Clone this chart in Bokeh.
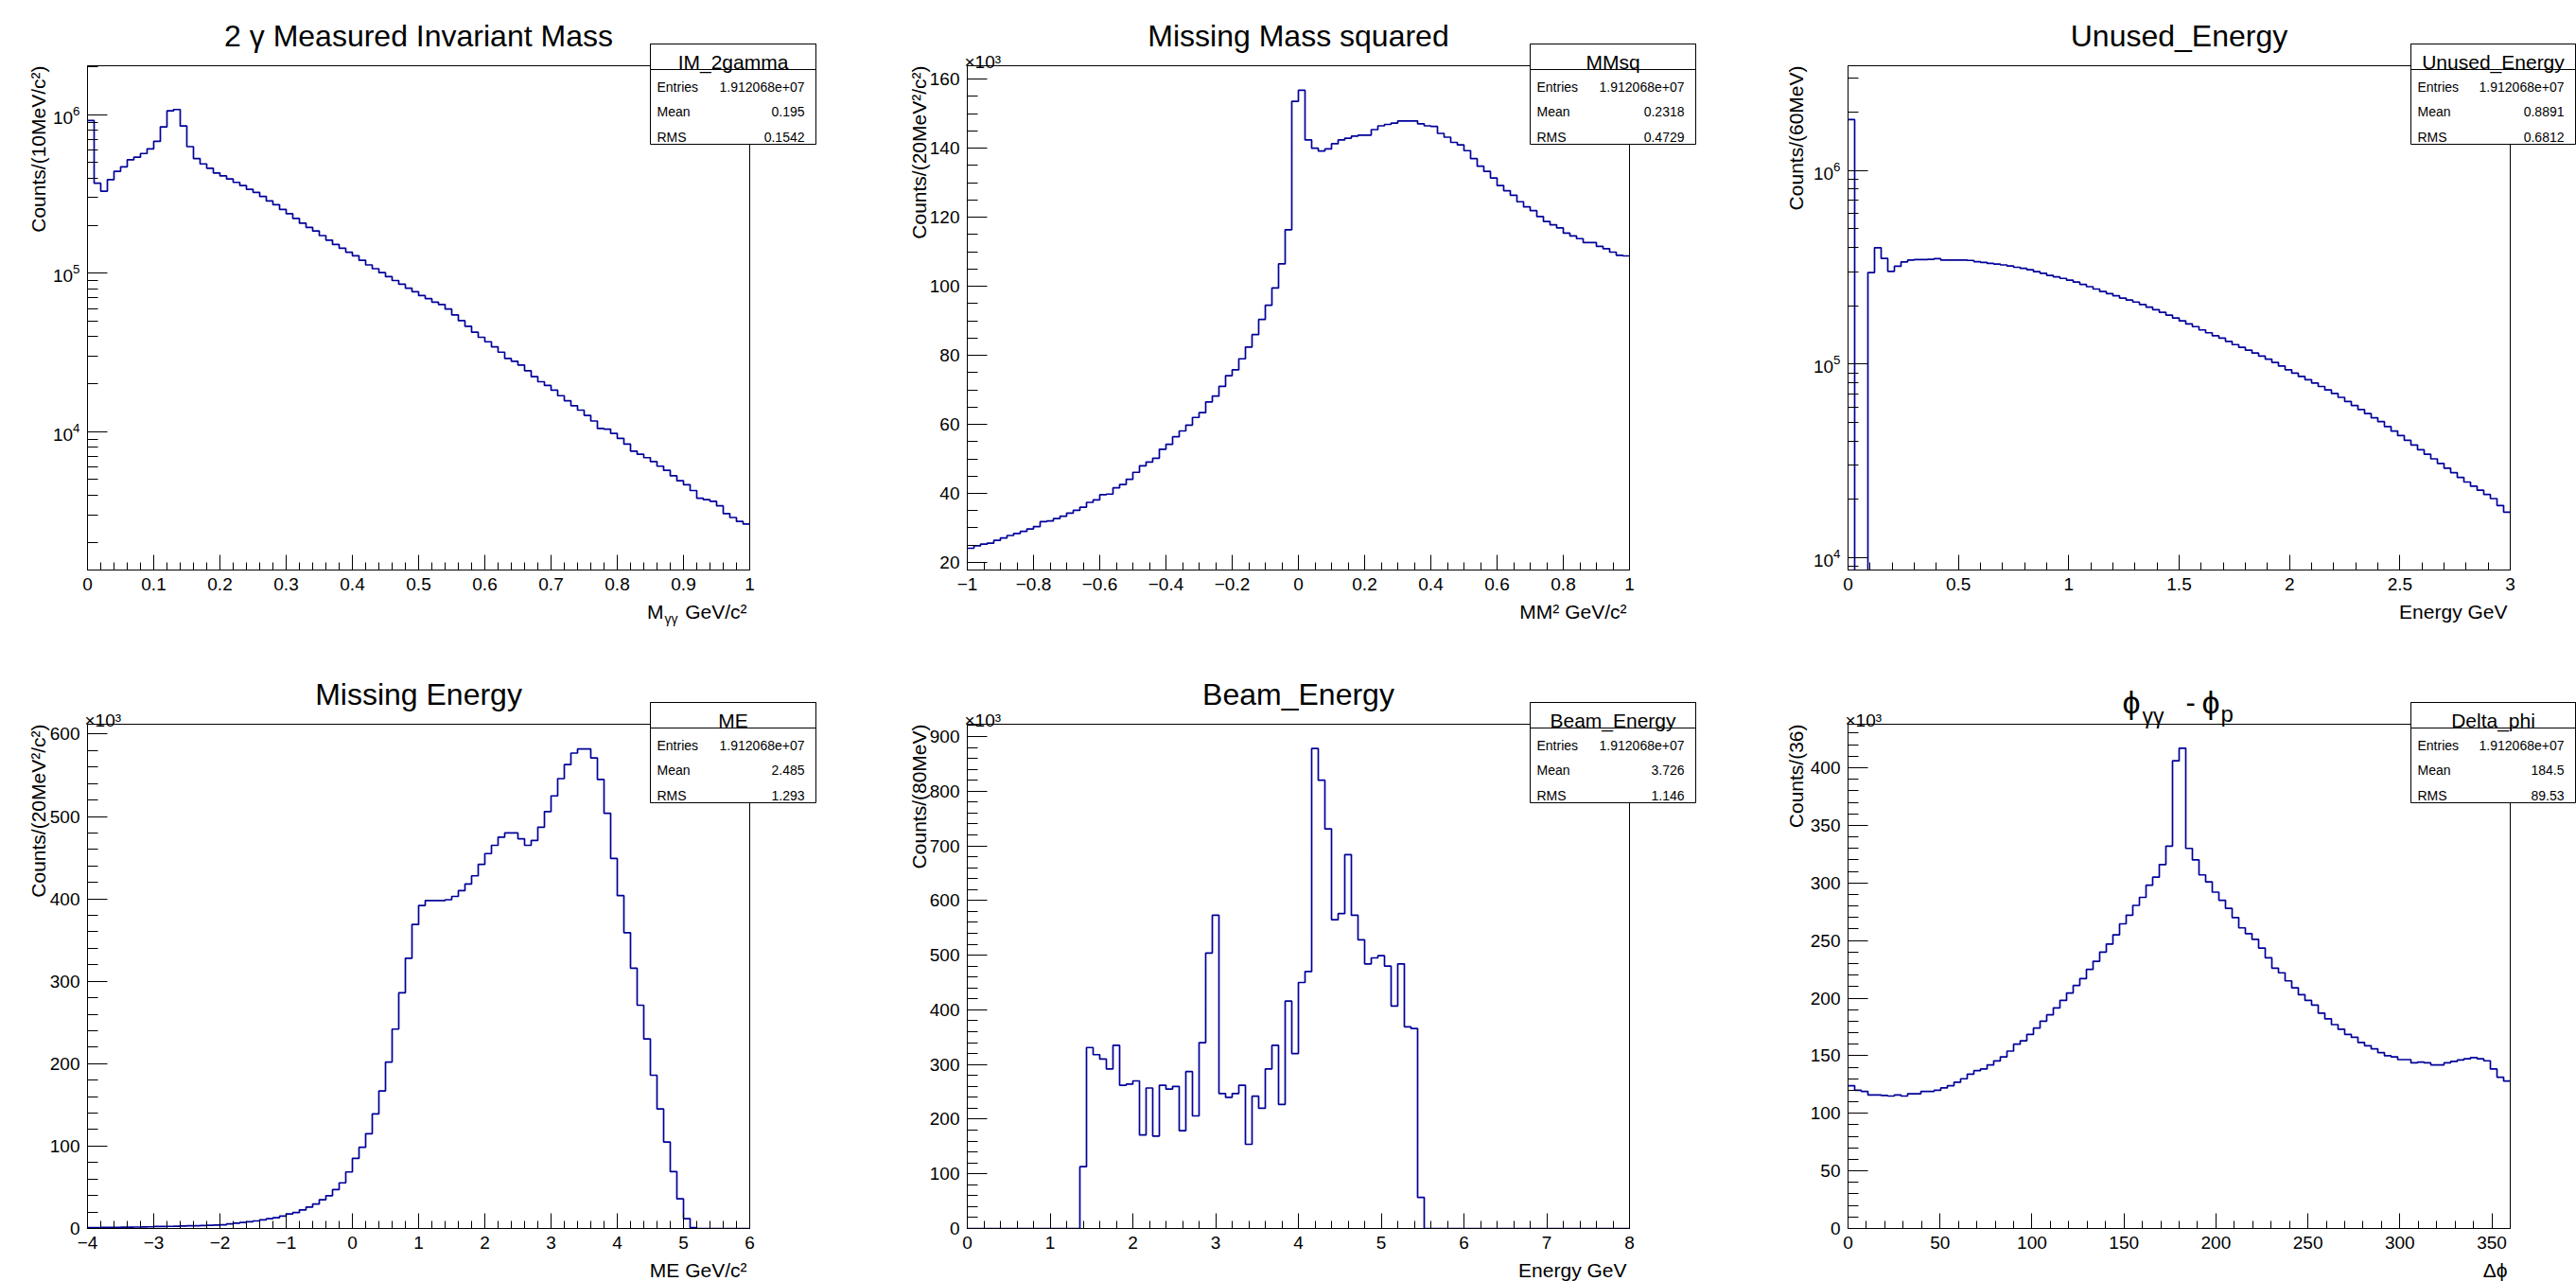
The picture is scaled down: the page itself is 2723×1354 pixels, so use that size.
import numpy as np
from bokeh.plotting import figure
from bokeh.models import (Label, BoxAnnotation, SingleIntervalTicker,
                          CustomJSTickFormatter, Range1d, GridBox)
from bokeh.embed import file_html
from bokeh.resources import INLINE

FONT = "Liberation Sans"
LINE = "#000099"

# ---------------- data (bin contents) ----------------
im2g_counts = [920000, 370000, 330000, 390000, 440000, 470000, 520000, 540000, 570000, 610000,
               680000, 840000, 1060000, 1080000, 850000, 630000, 530000, 490000, 460000, 430000,
               412000, 394000, 375000, 358000, 339000, 324000, 306000, 286000, 271000, 253000,
               238000, 222000, 207000, 195000, 185000, 173000, 162000, 152000, 144000, 136000,
               129000, 121000, 113000, 107000, 101000, 95300, 90100, 85300, 80600, 76600,
               72400, 69200, 65800, 63600, 59500, 54700, 50300, 46300, 42500, 39500,
               37000, 34400, 31800, 29000, 27900, 26400, 24300, 22300, 20700, 19600,
               18300, 16900, 15700, 14600, 13700, 12700, 11700, 10500, 10400, 9780,
               9090, 8360, 7560, 7220, 6870, 6490, 6070, 5710, 5280, 4910,
               4640, 4260, 3810, 3730, 3640, 3410, 3050, 2880, 2720, 2620]

mmsq_counts_k = [24.1, 24.8, 25.3, 25.6, 26.4, 27.1, 27.8, 28.4, 29.0, 29.7,
                 30.4, 31.8, 32.0, 32.7, 33.4, 34.3, 35.1, 36.0, 37.4, 38.1,
                 39.6, 39.8, 41.6, 42.6, 44.1, 46.1, 48.0, 49.1, 50.2, 52.8,
                 54.2, 56.4, 58.1, 59.8, 62.0, 63.4, 66.5, 68.2, 71.0, 74.1,
                 75.8, 79.0, 82.4, 86.0, 90.4, 94.5, 99.5, 106.5, 116.4, 153.6,
                 156.8, 142.4, 140.0, 139.2, 139.8, 141.3, 142.4, 142.9, 143.5, 143.8,
                 143.8, 145.4, 146.5, 146.9, 147.3, 147.9, 147.9, 147.9, 147.1, 146.5,
                 146.3, 144.3, 143.2, 141.7, 141.0, 139.3, 137.0, 134.8, 133.3, 131.4,
                 129.2, 127.7, 126.4, 124.5, 123.0, 121.9, 120.2, 118.8, 117.8, 116.9,
                 115.4, 114.6, 113.8, 112.7, 112.7, 111.6, 110.9, 109.9, 109.0, 108.8]

unused_counts = [1830000, 1000, 1000, 297000, 399000, 351000, 301000, 320000, 337000, 344000,
                 346000, 346000, 347000, 350000, 344000, 344000, 344000, 344000, 343000, 338000,
                 335000, 331000, 328000, 325000, 321000, 316000, 312000, 307000, 300000, 294000,
                 287000, 282000, 277000, 271000, 265000, 258000, 251000, 244000, 237000, 231000,
                 225000, 219000, 214000, 209000, 203000, 197000, 191000, 185000, 179000, 173000,
                 167000, 161000, 156000, 150000, 145000, 140000, 136000, 131000, 126000, 122000,
                 118000, 114000, 110000, 106000, 102000, 97700, 93500, 89700, 86300, 83000,
                 79800, 76600, 73500, 70500, 67300, 64100, 61100, 58200, 55500, 52800,
                 50400, 47600, 45100, 42700, 40400, 38200, 36100, 34200, 32400, 30700,
                 29000, 27500, 26000, 24600, 23400, 22300, 21200, 20200, 18600, 17200]

me_counts_k = [1.0, 1.1, 1.2, 1.3, 1.4, 1.5, 1.6, 1.7, 1.8, 2.0,
               2.4, 2.5, 2.6, 2.8, 3.0, 3.2, 3.4, 3.6, 3.9, 4.2,
               4.5, 5.5, 6.5, 7.3, 8.2, 9.2, 10.5, 11.8, 13.0, 15.0,
               17.7, 19.3, 22.6, 25.9, 29.6, 34.9, 39.8, 47.2, 55.4, 68.6,
               85, 98.5, 115, 139, 167, 202, 242, 286, 328, 369,
               392, 398, 398, 398, 399, 403, 410, 418, 428, 442,
               455, 465, 475, 480, 480, 473, 465, 471, 487, 506,
               525, 546, 563, 577, 582, 582, 571, 545, 504, 449,
               404, 359, 316, 271, 230, 186, 145, 105, 69, 36,
               12, 1, 0, 0, 0, 0, 0, 0, 0, 0]

beam_counts_k = [0, 0, 0, 0, 0, 0, 0, 0, 0, 0,
                 0, 0, 0, 0, 0, 0, 0, 113, 331, 318,
                 310, 292, 335, 262, 264, 270, 171, 257, 169, 262,
                 255, 260, 179, 287, 206, 340, 504, 573, 247, 240,
                 247, 262, 154, 242, 220, 292, 335, 227, 416, 320,
                 450, 470, 878, 820, 731, 565, 576, 684, 573, 528,
                 484, 495, 499, 480, 407, 484, 369, 366, 57, 0,
                 0, 0, 0, 0, 0, 0, 0, 0, 0, 0,
                 0, 0, 0, 0, 0, 0, 0, 0, 0, 0,
                 0, 0, 0, 0, 0, 0, 0, 0, 0, 0]

dphi_counts_k = [124, 120, 119, 116, 116, 115.5, 115, 116, 115, 117,
                 117, 119, 119, 120, 122, 124, 127, 130, 134, 137,
                 138.5, 142, 145.5, 149, 154, 160, 163, 168.5, 174, 180,
                 185.5, 191.5, 198, 204.5, 211, 217, 225, 232, 240, 247,
                 255, 264.5, 272, 280.5, 287.5, 298, 305, 316, 332, 406,
                 417, 330, 320, 307, 301, 292, 285, 278, 270, 261,
                 256, 251, 243.5, 235, 226, 222, 215, 209, 203, 198,
                 194, 187, 182, 177, 173, 168.5, 166, 161.5, 158.7, 156,
                 152.7, 150, 149, 146.6, 146.6, 143.8, 144.5, 143.8, 142, 142,
                 143.8, 145, 146.3, 147.3, 148.4, 147.3, 145.6, 138.5, 131.4, 128]

PHI = "\u03d5"
titles = ["2 \u03b3 Measured Invariant Mass", "Missing Mass squared", "Unused_Energy",
          "Missing Energy", "Beam_Energy", None]
y_titles = ["Counts/(10MeV/c\u00b2)", "Counts/(20MeV\u00b2/c\u00b2)", "Counts/(60MeV)",
            "Counts/(20MeV\u00b2/c\u00b2)", "Counts/(80MeV)", "Counts/(36)"]
x_titles = [None, "MM\u00b2 GeV/c\u00b2", "Energy GeV", "ME GeV/c\u00b2", "Energy GeV", "\u0394" + PHI]
stat_names = ["IM_2gamma", "MMsq", "Unused_Energy", "ME", "Beam_Energy", "Delta_phi"]
stat_entries = ["1.912068e+07"] * 6
stat_means = ["0.195", "0.2318", "0.8891", "2.485", "3.726", "184.5"]
stat_rms = ["0.1542", "0.4729", "0.6812", "1.293", "1.146", "89.53"]

x_limits = [(0, 1), (-1, 1), (0, 3), (-4, 6), (0, 8), (0, 360)]
y_limits = [(1343, 2.04e6), (17.8, 163.9), (8640, 3.47e6), (0, 612), (0, 922.5), (0, 437.8)]
y_log = [True, False, True, False, False, False]
x_tick = [(0.1, 5), (0.2, 4), (0.5, 5), (1, 5), (1, 5), (50, 5)]
y_tick = [None, (20, 4), None, (100, 5), (100, 5), (50, 5)]
x10 = [False, True, False, True, True, True]
series = [im2g_counts, mmsq_counts_k, unused_counts, me_counts_k, beam_counts_k, dphi_counts_k]

# ---------------- layout (pixels) ----------------
W, H = 2723, 1354
FW, FH = 700, 533
col_x0 = [0, 907, 1815]
row_y0 = [0, 677]
pad_w = [907, 908, 908]
pad_h = 677
b_left = [92, 115, 138]
b_right = [115, 93, 70]
b_top = [69, 88]
b_bot = [75, 56]
ytitle_off = [-52, -51, -55]

FMT = CustomJSTickFormatter(code="""
const v = Math.round(tick * 1000) / 1000;
return (v < 0 ? "\\u2212" : "") + Math.abs(v).toString();
""")


def make_panel(i):
    c, r = i % 3, i // 3
    p = figure(width=pad_w[c], height=pad_h,
               x_range=Range1d(*x_limits[i]), y_range=Range1d(*y_limits[i]),
               y_axis_type="log" if y_log[i] else "linear",
               output_backend="svg", toolbar_location=None,
               min_border_left=b_left[c], min_border_right=b_right[c],
               min_border_top=b_top[r], min_border_bottom=b_bot[r])
    p.xgrid.grid_line_color = None
    p.ygrid.grid_line_color = None
    p.outline_line_color = "black"
    p.outline_line_width = 1
    p.outline_line_alpha = 1
    p.background_fill_color = "white"
    p.border_fill_color = "white"

    xi, xm = x_tick[i]
    p.xaxis.ticker = SingleIntervalTicker(interval=xi, num_minor_ticks=xm)
    p.xaxis.formatter = FMT
    if y_tick[i] is not None:
        yi, ym = y_tick[i]
        p.yaxis.ticker = SingleIntervalTicker(interval=yi, num_minor_ticks=ym)
        p.yaxis.formatter = FMT
    for ax, maj, mnr in ((p.xaxis, 16, 8), (p.yaxis, 21, 11)):
        ax.major_tick_in = maj
        ax.major_tick_out = 0
        ax.minor_tick_in = mnr
        ax.minor_tick_out = 0
        ax.axis_line_color = "black"
        ax.major_tick_line_color = "black"
        ax.minor_tick_line_color = "black"
        ax.major_label_text_font = FONT
        ax.major_label_text_font_size = "19px"
        ax.major_label_text_color = "black"
        ax.major_label_standoff = 8

    lo, hi = x_limits[i]
    edges = np.linspace(lo, hi, len(series[i]) + 1)
    vals = list(series[i]) + [series[i][-1]]
    p.step(x=edges, y=vals, mode="after", line_color=LINE, line_width=1.7)
    return p


# ---------------- transparent overlay for texts and stat boxes ----------------
ov = figure(width=W, height=H, x_range=Range1d(0, W), y_range=Range1d(0, H),
            x_axis_location=None, y_axis_location=None, output_backend="svg",
            toolbar_location=None, min_border=0, min_border_left=0, min_border_right=0,
            min_border_top=0, min_border_bottom=0)
ov.frame_align = False
ov.outline_line_color = None
ov.background_fill_color = None
ov.border_fill_color = None
ov.grid.visible = False


def lab(x, y, text, size, align="left", baseline="alphabetic", angle=0.0):
    # x, y in window pixels measured from the top-left corner
    ov.add_layout(Label(x=x, y=H - y, text=text, text_font=FONT,
                        text_font_size=f"{size}px", text_color="black",
                        text_align=align, text_baseline=baseline, angle=angle))


def box(l, r, t, b):
    ov.add_layout(BoxAnnotation(left=l, right=r, top=H - t, bottom=H - b,
                                fill_color="white", fill_alpha=1.0,
                                line_color="black", line_alpha=1.0, line_width=1))


for i in range(6):
    c, r = i % 3, i // 3
    FL = col_x0[c] + b_left[c]
    FR = FL + FW
    FT = row_y0[r] + b_top[r]
    FB = FT + FH
    cx = (FL + FR) / 2
    if titles[i] is not None:
        lab(cx, FT - 32, titles[i], 32, align="center")
    else:
        lab(cx - 60, FT - 24, PHI, 34)
        lab(cx - 39, FT - 9, "\u03b3\u03b3", 23)
        lab(cx + 7, FT - 24, "-", 31)
        lab(cx + 24, FT - 24, PHI, 34)
        lab(cx + 44, FT - 11, "p", 24)
    lab(FL + ytitle_off[c], FT, y_titles[i], 21, align="right", angle=np.pi / 2)
    if x_titles[i] is not None:
        lab(FR - 3, FB + 44, x_titles[i], 21, align="right")
    else:
        lab(FR - 3, FB + 44, "GeV/c\u00b2", 21, align="right")
        lab(FR - 76, FB + 51, "\u03b3\u03b3", 14, align="right")
        lab(FR - 91, FB + 44, "M", 21, align="right")
    if x10[i]:
        lab(FL - 3, FT - 4, "\u00d710\u00b3", 19)
    bl, br = FR - 105, FR + min(70, b_right[c] - 1)
    box(bl, br, FT - 23, FT + 83)
    box(bl, br, FT - 23, FT + 4)
    lab((bl + br) / 2, FT - 4, stat_names[i], 21, align="center")
    for k, (name, val) in enumerate((("Entries", stat_entries[i]), ("Mean", stat_means[i]),
                                     ("RMS", stat_rms[i]))):
        yb = FT + 22 + k * 26.5
        lab(bl + 7, yb, name, 14)
        lab(br - 12, yb, val, 14, align="right")

figs = [make_panel(i) for i in range(6)]
children = [(figs[i], i // 3, i % 3) for i in range(6)] + [(ov, 0, 0, 2, 3)]
layout = GridBox(children=children, spacing=0)

with open("out.html", "w", encoding="utf-8") as f:
    f.write(file_html(layout, INLINE))
